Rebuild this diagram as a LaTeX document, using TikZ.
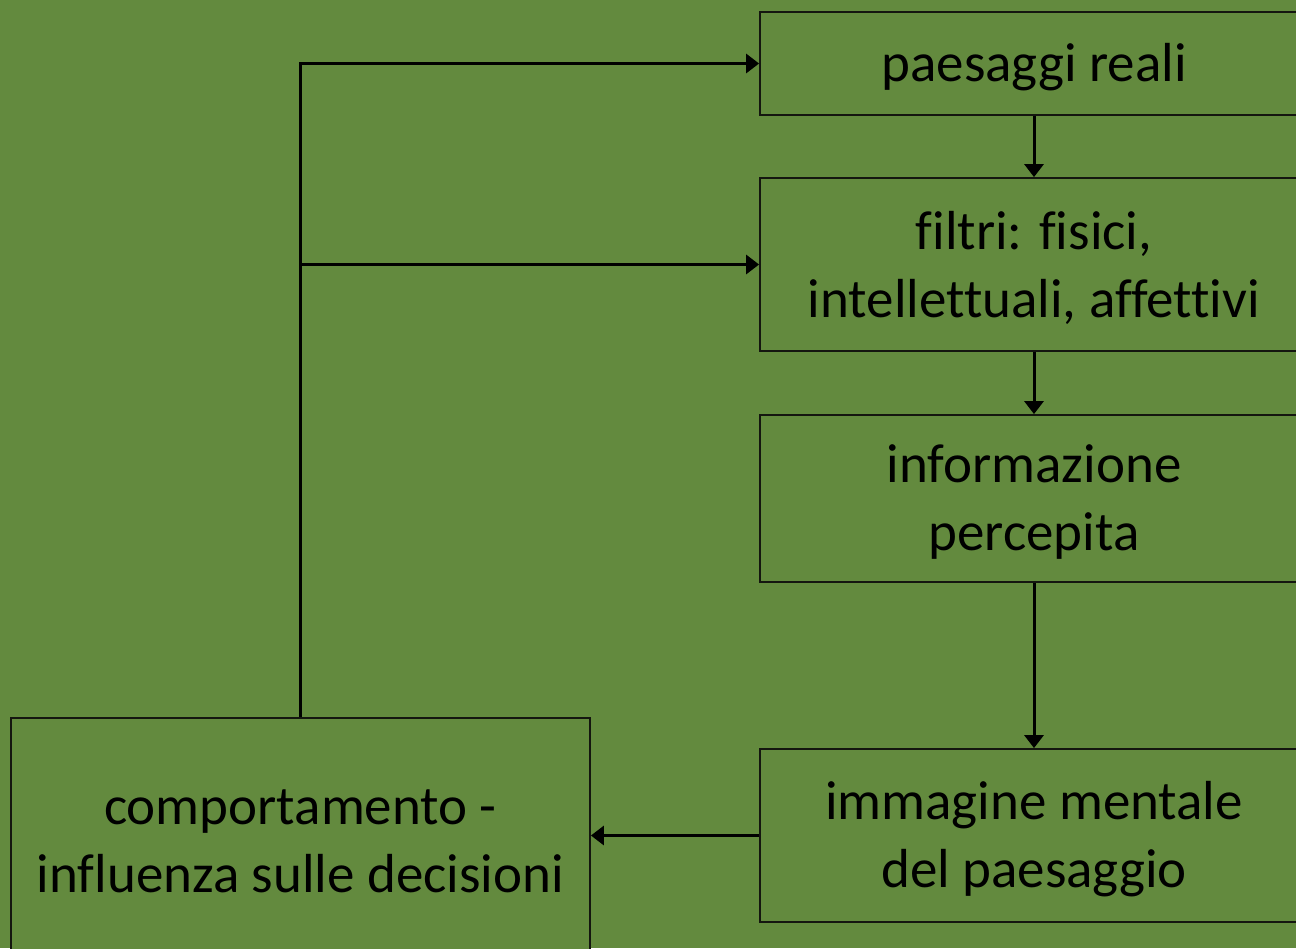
\documentclass[tikz,border=0pt]{standalone}
\usepackage{fontspec}
\setmainfont[Ligatures=NoCommon]{Carlito}
\usetikzlibrary{arrows.meta}
\definecolor{bg}{RGB}{99,138,62}
\definecolor{ln}{RGB}{20,22,15}
\begin{document}
\begin{tikzpicture}[x=1pt,y=-1pt,
  box/.style={draw=ln,line width=1.8pt,fill=bg,inner sep=0pt},
  txt/.style={align=center,inner sep=0pt,font=\fontsize{55}{68}\selectfont,text=black},
  conn/.style={draw=black,line width=3pt,-{Triangle[width=19pt,length=13pt]}},
  plain/.style={draw=black,line width=3pt}]
\fill[bg] (0,0) rectangle (1296,948);
\useasboundingbox (0,0) rectangle (1296,948);
\node[box,minimum width=548,minimum height=103] (pr) at (1034,63.5) {};
\node[box,minimum width=548,minimum height=173] (fi) at (1034,264.5) {};
\node[box,minimum width=548,minimum height=167] (in) at (1034,498.5) {};
\node[box,minimum width=548,minimum height=173] (im) at (1034,835.5) {};
\node[box,minimum width=579,minimum height=240] (co) at (300.5,838) {};
\node[txt] (prt) at ([yshift=-3.5pt]pr.center) {paesaggi reali};
\node[txt] (fit) at ([yshift=-3.5pt]fi.center) {filtri: fisici,\\intellettuali, affettivi};
\node[txt] (int) at ([yshift=-3.5pt]in.center) {informazione\\percepita};
\node[txt] (imt) at ([yshift=-3.5pt]im.center) {immagine mentale\\del paesaggio};
\node[txt] (cot) at ([yshift=-3.5pt]co.center) {comportamento -\\influenza sulle decisioni};
\coordinate (t1) at (co.north |- pr.west);
\coordinate (t2) at (co.north |- fi.west);
\draw[conn] (pr) -- (fi);
\draw[conn] (fi) -- (in);
\draw[conn] (in) -- (im);
\draw[conn] (im.west) -- (im.west -| co.east);
\draw[plain] (co.north) -- (t1);
\draw[conn] ([xshift=-1.5pt]t1) -- (pr.west);
\draw[conn] (t2) -- (fi.west);
\end{tikzpicture}
\end{document}
